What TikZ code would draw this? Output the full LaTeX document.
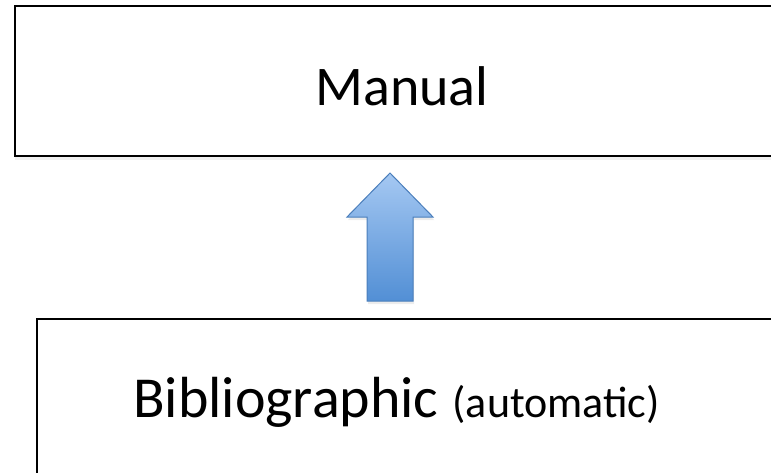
\documentclass[tikz,border=0pt]{standalone}
\usepackage{fontspec}
\setmainfont{Carlito}
\usetikzlibrary{shadows}
\definecolor{arrowtop}{RGB}{165,200,242}
\definecolor{arrowbot}{RGB}{82,143,213}
\definecolor{arrowline}{RGB}{74,126,187}
\newcommand{\smallsize}{\fontsize{44}{48}\selectfont}
\begin{document}
\begin{tikzpicture}[x=1pt, y=1pt,
  levelbox/.style={draw=black, line width=2pt, fill=white, inner sep=0pt,
    drop shadow={opacity=0.12, shadow xshift=0pt, shadow yshift=-4pt}},
  bigtext/.style={font=\fontsize{56}{60}\selectfont, anchor=base, inner sep=0pt}]
\useasboundingbox (0,0) rectangle (771,-472);
\clip (0,0) rectangle (771,-472);

\node[levelbox, minimum width=780pt, minimum height=150.5pt] (manual) at (405,-80.75) {};
\node[levelbox, minimum width=780pt, minimum height=200pt] (biblio) at (427,-418.5) {};

\node[bigtext] (manualtext) at (402,-105) {Manual};
\node[bigtext, font=\fontsize{58}{60}\selectfont, anchor=base west] (bibliotext) at (133,-417)
  {Bibliographic\hspace{14pt}{\smallsize(automatic)}};

\coordinate (tip) at (390,-173);
\shade[top color=arrowtop, bottom color=arrowbot, draw=arrowline, line width=1pt,
  drop shadow={opacity=0.15, shadow xshift=1pt, shadow yshift=-3pt}]
  (tip) -- ++(43,-44) -- ++(-20,0) -- ++(0,-84) -- ++(-46,0) -- ++(0,84) -- ++(-20,0) -- cycle;

\end{tikzpicture}
\end{document}
